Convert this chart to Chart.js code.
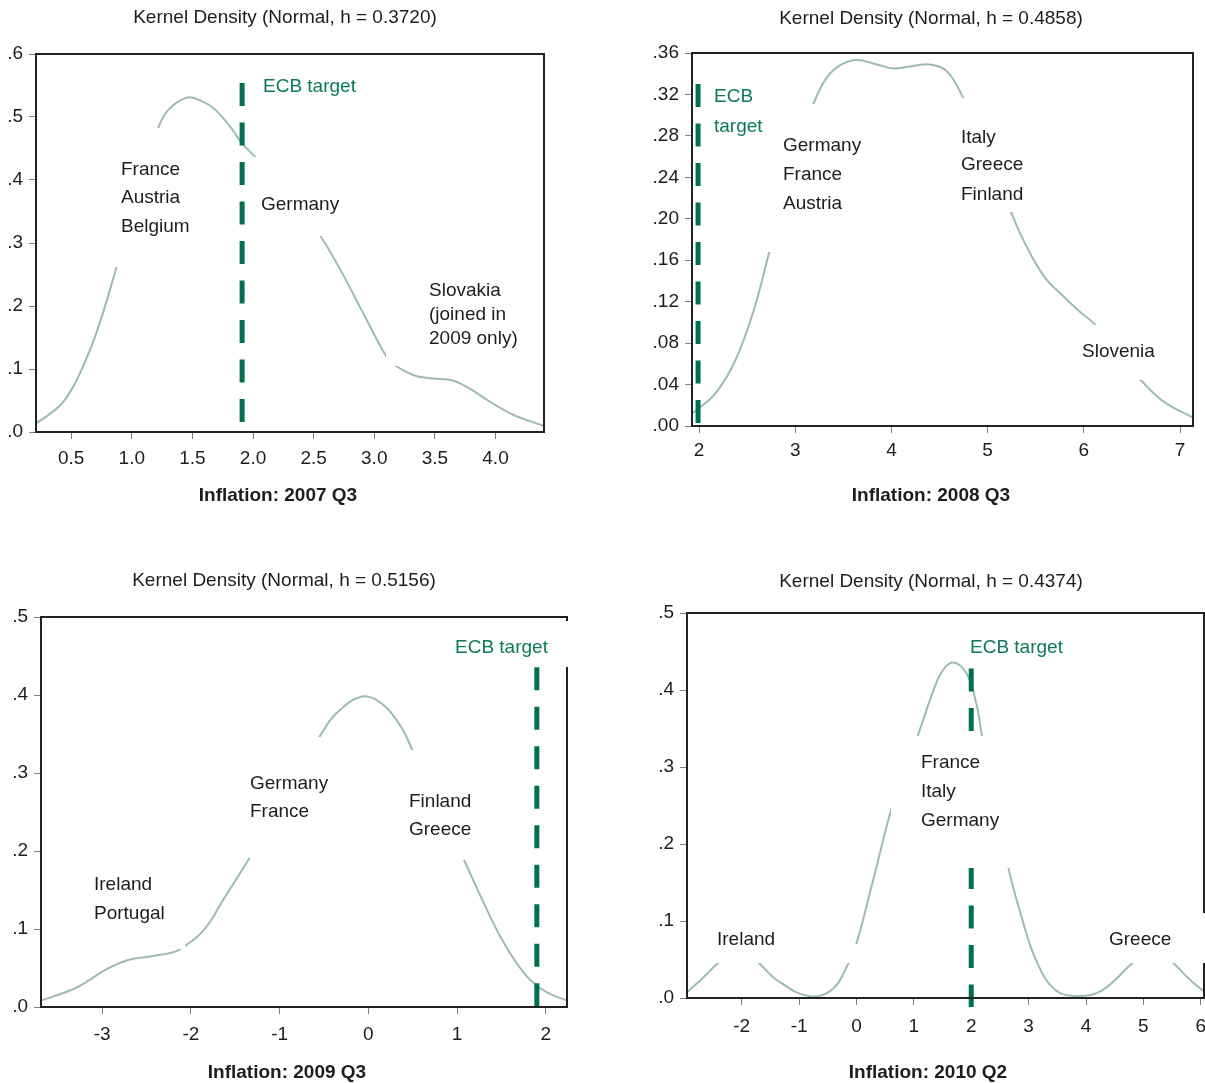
<!DOCTYPE html>
<html>
<head>
<meta charset="utf-8">
<script src="https://cdn.jsdelivr.net/npm/chart.js@4.4.0/dist/chart.umd.min.js"></script>
<style>
  body { margin: 0; background: #fff; width: 1205px; height: 1083px; position: relative; overflow: hidden; }
  canvas { position: absolute; }
</style>
</head>
<body>
<canvas id="c2007" width="600" height="520" style="left:0;top:0"></canvas>
<canvas id="c2008" width="605" height="520" style="left:600px;top:0"></canvas>
<canvas id="c2009" width="600" height="543" style="left:0;top:540px"></canvas>
<canvas id="c2010" width="605" height="543" style="left:600px;top:540px"></canvas>
<script>
// Inflation rates (x) and kernel density estimates (y)
const infl2007 = [0.21, 0.32, 0.435, 0.546, 0.7, 0.88, 1.0, 1.1, 1.21, 1.3, 1.46, 1.59, 1.68, 1.81, 1.91, 2.03, 2.2, 2.4, 2.55, 2.75, 2.91, 3.1, 3.17, 3.32, 3.46, 3.63, 3.76, 3.955, 4.15, 4.4];
const dens2007 = [0.014, 0.028, 0.048, 0.0825, 0.153, 0.265, 0.345, 0.418, 0.479, 0.511, 0.531, 0.524, 0.513, 0.485, 0.458, 0.434, 0.395, 0.35, 0.313, 0.247, 0.188, 0.12, 0.106, 0.0905, 0.0852, 0.0825, 0.0719, 0.048, 0.027, 0.0095];

const infl2008 = [1.93, 2.17, 2.38, 2.58, 2.73, 2.9, 3.05, 3.19, 3.36, 3.6, 3.85, 4.02, 4.19, 4.4, 4.58, 4.75, 4.9, 5.05, 5.24, 5.39, 5.59, 5.79, 5.95, 6.12, 6.3, 6.45, 6.59, 6.83, 7.13];
const dens2008 = [0.0123, 0.0316, 0.0637, 0.115, 0.168, 0.225, 0.275, 0.311, 0.34, 0.353, 0.349, 0.345, 0.347, 0.349, 0.342, 0.316, 0.285, 0.248, 0.207, 0.176, 0.144, 0.125, 0.111, 0.0975, 0.075, 0.058, 0.0444, 0.0235, 0.0084];

const infl2009 = [-3.69, -3.35, -3.15, -2.97, -2.71, -2.48, -2.18, -2.07, -1.91, -1.77, -1.66, -1.34, -1.1, -0.8, -0.55, -0.36, -0.07, 0.15, 0.37, 0.5, 0.7, 0.9, 1.08, 1.27, 1.53, 1.79, 2.0, 2.24];
const dens2009 = [0.0081, 0.0218, 0.034, 0.0474, 0.0603, 0.0645, 0.0709, 0.0782, 0.092, 0.1115, 0.133, 0.191, 0.24, 0.3, 0.3466, 0.3765, 0.398, 0.389, 0.359, 0.3286, 0.28, 0.232, 0.1885, 0.141, 0.0817, 0.0389, 0.0196, 0.0081];

const infl2010 = [-2.95, -2.72, -2.42, -2.2, -2.0, -1.85, -1.69, -1.38, -0.84, -0.44, -0.14, 0.0, 0.3, 0.61, 0.85, 1.06, 1.32, 1.5, 1.69, 1.92, 2.09, 2.19, 2.4, 2.65, 2.86, 3.13, 3.47, 3.87, 4.28, 4.8, 5.0, 5.17, 5.35, 5.53, 5.82, 6.05];
const dens2010 = [0.0078, 0.023, 0.0447, 0.057, 0.06, 0.055, 0.0447, 0.023, 0.0026, 0.01, 0.0447, 0.0706, 0.156, 0.246, 0.3, 0.339, 0.395, 0.425, 0.4356, 0.421, 0.382, 0.339, 0.26, 0.168, 0.1096, 0.049, 0.01, 0.0026, 0.01, 0.0447, 0.056, 0.06, 0.055, 0.0447, 0.023, 0.0087];

// ECB target line: x position and the y span it covers
const ecb2007 = 1.91, ecbSpan2007 = [0.014, 0.554];
const ecb2008 = 1.99, ecbSpan2008 = [0.0026, 0.33];
const ecb2009 = 1.9, ecbSpan2009 = [0, 0.4355];
const ecb2010 = 2.0, ecbSpan2010 = [-0.0117, 0.428];

// Tick values and labels
const xTicks2007 = [0.5, 1.0, 1.5, 2.0, 2.5, 3.0, 3.5, 4.0];
const xLabels2007 = ['0.5', '1.0', '1.5', '2.0', '2.5', '3.0', '3.5', '4.0'];
const yTicks2007 = [0, 0.1, 0.2, 0.3, 0.4, 0.5, 0.6];
const yLabels2007 = ['.0', '.1', '.2', '.3', '.4', '.5', '.6'];

const xTicks2008 = [2, 3, 4, 5, 6, 7];
const xLabels2008 = ['2', '3', '4', '5', '6', '7'];
const yTicks2008 = [0, 0.04, 0.08, 0.12, 0.16, 0.20, 0.24, 0.28, 0.32, 0.36];
const yLabels2008 = ['.00', '.04', '.08', '.12', '.16', '.20', '.24', '.28', '.32', '.36'];

const xTicks2009 = [-3, -2, -1, 0, 1, 2];
const xLabels2009 = ['-3', '-2', '-1', '0', '1', '2'];
const yTicks2009 = [0, 0.1, 0.2, 0.3, 0.4, 0.5];
const yLabels2009 = ['.0', '.1', '.2', '.3', '.4', '.5'];

const xTicks2010 = [-2, -1, 0, 1, 2, 3, 4, 5, 6];
const xLabels2010 = ['-2', '-1', '0', '1', '2', '3', '4', '5', '6'];
const yTicks2010 = [0, 0.1, 0.2, 0.3, 0.4, 0.5];
const yLabels2010 = ['.0', '.1', '.2', '.3', '.4', '.5'];

const FONT = '"Liberation Sans", Arial, Helvetica, sans-serif';
const TEXT = '#1d1d1d';
const GREEN = '#006f53';
const GREEN_TEXT = '#0b7a5c';
const CURVE = '#9dbcaf';

const panels = [
    {
        id: 'c2007', area: { l: 36, t: 54, r: 544, b: 432 },
        xRange: [0.21, 4.40], yRange: [0, 0.6],
        xs: infl2007, ys: dens2007, ecb: ecb2007, ecbSpan: ecbSpan2007,
        xTicks: xTicks2007, xLabels: xLabels2007, yTicks: yTicks2007, yLabels: yLabels2007, xPad: 8,
        title: 'Kernel Density (Normal, h = 0.3720)', titleX: 285, titleY: 18,
        xTitle: 'Inflation: 2007 Q3', xTitleX: 278, xTitleY: 496,
        masks: [[112, 128, 200, 267], [250, 157, 345, 236], [386, 275, 525, 366]],
        notes: [
            { text: 'ECB target', x: 263, y: 87, green: true },
            { text: 'France', x: 121, y: 170 }, { text: 'Austria', x: 121, y: 198 }, { text: 'Belgium', x: 121, y: 227 },
            { text: 'Germany', x: 261, y: 205 },
            { text: 'Slovakia', x: 429, y: 291 }, { text: '(joined in', x: 429, y: 315 }, { text: '2009 only)', x: 429, y: 339 },
        ],
    },
    {
        id: 'c2008', area: { l: 92, t: 53, r: 593, b: 426 },
        xRange: [1.927, 7.135], yRange: [0, 0.36],
        xs: infl2008, ys: dens2008, ecb: ecb2008, ecbSpan: ecbSpan2008,
        xTicks: xTicks2008, xLabels: xLabels2008, yTicks: yTicks2008, yLabels: yLabels2008, xPad: 6,
        title: 'Kernel Density (Normal, h = 0.4858)', titleX: 331, titleY: 19,
        xTitle: 'Inflation: 2008 Q3', xTitleX: 331, xTitleY: 496,
        masks: [[165, 104, 270, 252], [355, 98, 430, 212], [475, 325, 562, 380]],
        notes: [
            { text: 'ECB', x: 114, y: 97, green: true }, { text: 'target', x: 114, y: 127, green: true },
            { text: 'Germany', x: 183, y: 146 }, { text: 'France', x: 183, y: 175 }, { text: 'Austria', x: 183, y: 204 },
            { text: 'Italy', x: 361, y: 138 }, { text: 'Greece', x: 361, y: 165 }, { text: 'Finland', x: 361, y: 195 },
            { text: 'Slovenia', x: 482, y: 352 },
        ],
    },
    {
        id: 'c2009', area: { l: 41, t: 77, r: 567, b: 467 },
        xRange: [-3.69, 2.24], yRange: [0, 0.5],
        xs: infl2009, ys: dens2009, ecb: ecb2009, ecbSpan: ecbSpan2009,
        xTicks: xTicks2009, xLabels: xLabels2009, yTicks: yTicks2009, yLabels: yLabels2009, xPad: 9,
        title: 'Kernel Density (Normal, h = 0.5156)', titleX: 284, titleY: 41,
        xTitle: 'Inflation: 2009 Q3', xTitleX: 287, xTitleY: 533,
        masks: [[447, 81, 570, 127], [248, 197, 335, 318], [405, 210, 478, 320], [60, 322, 185, 409]],
        notes: [
            { text: 'ECB target', x: 455, y: 108, green: true },
            { text: 'Germany', x: 250, y: 244 }, { text: 'France', x: 250, y: 272 },
            { text: 'Finland', x: 409, y: 262 }, { text: 'Greece', x: 409, y: 290 },
            { text: 'Ireland', x: 94, y: 345 }, { text: 'Portugal', x: 94, y: 374 },
        ],
    },
    {
        id: 'c2010', area: { l: 87, t: 73, r: 604, b: 458 },
        xRange: [-2.953, 6.056], yRange: [0, 0.5],
        xs: infl2010, ys: dens2010, ecb: ecb2010, ecbSpan: ecbSpan2010,
        xTicks: xTicks2010, xLabels: xLabels2010, yTicks: yTicks2010, yLabels: yLabels2010, xPad: 10,
        title: 'Kernel Density (Normal, h = 0.4374)', titleX: 331, titleY: 42,
        xTitle: 'Inflation: 2010 Q2', xTitleX: 328, xTitleY: 533,
        masks: [[291, 196, 412, 328], [105, 380, 180, 423], [246, 404, 266, 423], [500, 373, 610, 423]],
        notes: [
            { text: 'ECB target', x: 370, y: 108, green: true },
            { text: 'France', x: 321, y: 223 }, { text: 'Italy', x: 321, y: 252 }, { text: 'Germany', x: 321, y: 281 },
            { text: 'Ireland', x: 117, y: 400 }, { text: 'Greece', x: 509, y: 400 },
        ],
    },
];

// frame, white label boxes, notes and titles
const makeDecor = (p) => ({
    id: 'decor',
    afterDatasetsDraw(chart) {
        const { ctx, chartArea: a } = chart;
        ctx.save();
        ctx.strokeStyle = '#222';
        ctx.lineWidth = 2;
        ctx.strokeRect(a.left, a.top, a.right - a.left, a.bottom - a.top);
        ctx.restore();
    },
    afterDraw(chart) {
        const ctx = chart.ctx;
        ctx.save();
        ctx.fillStyle = '#fff';
        p.masks.forEach(([x0, y0, x1, y1]) => ctx.fillRect(x0, y0, x1 - x0, y1 - y0));
        ctx.font = `19px ${FONT}`;
        ctx.textBaseline = 'middle';
        ctx.textAlign = 'left';
        p.notes.forEach(n => {
            ctx.fillStyle = n.green ? GREEN_TEXT : TEXT;
            ctx.fillText(n.text, n.x, n.y);
        });
        ctx.textAlign = 'center';
        ctx.fillStyle = TEXT;
        ctx.fillText(p.title, p.titleX, p.titleY);
        ctx.font = `bold 19px ${FONT}`;
        ctx.fillText(p.xTitle, p.xTitleX, p.xTitleY);
        ctx.restore();
    }
});

const axisGrid = { display: true, drawOnChartArea: false, drawTicks: true, tickLength: 7, tickColor: '#808080', tickWidth: 1 };

panels.forEach(p => {
    const canvas = document.getElementById(p.id);
    const W = canvas.width, H = canvas.height;
    new Chart(canvas, {
        type: 'line',
        data: {
            datasets: [
                {
                    data: [{ x: p.ecb, y: p.ecbSpan[1] }, { x: p.ecb, y: p.ecbSpan[0] }],
                    borderColor: GREEN, borderWidth: 5, borderDash: [23, 16.5], borderCapStyle: 'butt',
                    pointRadius: 0, tension: 0, clip: false,
                },
                {
                    data: p.xs.map((x, i) => ({ x, y: p.ys[i] })),
                    borderColor: CURVE, borderWidth: 2, pointRadius: 0,
                    tension: 0.4, fill: false,
                },
            ]
        },
        options: {
            responsive: false, animation: false, devicePixelRatio: 1, events: [],
            layout: { padding: { left: 0, top: p.area.t, right: W - p.area.r, bottom: 0 } },
            plugins: { legend: { display: false }, title: { display: false }, tooltip: { enabled: false } },
            scales: {
                x: {
                    type: 'linear', min: p.xRange[0], max: p.xRange[1],
                    afterBuildTicks: s => { s.ticks = p.xTicks.map(v => ({ value: v })); },
                    afterFit: s => { s.height = H - p.area.b; s.paddingLeft = 0; s.paddingRight = 0; },
                    ticks: { callback: (v, i) => p.xLabels[i], autoSkip: false, maxRotation: 0, padding: p.xPad, color: TEXT, font: { family: FONT, size: 19 } },
                    grid: axisGrid, border: { display: false },
                },
                y: {
                    type: 'linear', min: p.yRange[0], max: p.yRange[1],
                    afterBuildTicks: s => { s.ticks = p.yTicks.map(v => ({ value: v })); },
                    afterFit: s => { s.width = p.area.l; s.paddingTop = 0; s.paddingBottom = 0; },
                    ticks: { callback: (v, i) => p.yLabels[i], autoSkip: false, padding: 6, color: TEXT, font: { family: FONT, size: 19 } },
                    grid: axisGrid, border: { display: false },
                },
            }
        },
        plugins: [makeDecor(p)]
    });
});
</script>
</body>
</html>
